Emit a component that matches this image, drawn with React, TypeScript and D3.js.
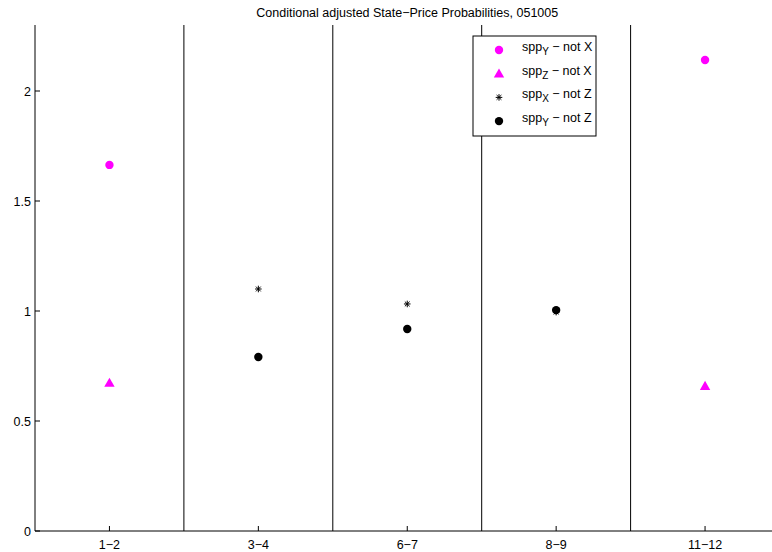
import React from "react";
import * as d3 from "d3";

const title = "Conditional adjusted State\u2212Price Probabilities, 051005";
const categories = ["1\u22122", "3\u22124", "6\u22127", "8\u22129", "11\u221212"];
const yTicks = [0, 0.5, 1, 1.5, 2];
const yTickLabels = ["0", "0.5", "1", "1.5", "2"];

// series values per category (null = not shown)
const sppYnotX: (number | null)[] = [1.664, null, null, null, 2.141];
const sppZnotX: (number | null)[] = [0.673, null, null, null, 0.659];
const sppXnotZ: (number | null)[] = [null, 1.1, 1.032, 0.995, null];
const sppYnotZ: (number | null)[] = [null, 0.791, 0.918, 1.004, null];

const legendItems = [
  { sub: "Y", rest: " \u2212 not X", kind: "circle", color: "#ff00ff" },
  { sub: "Z", rest: " \u2212 not X", kind: "triangle", color: "#ff00ff" },
  { sub: "X", rest: " \u2212 not Z", kind: "star", color: "#000000" },
  { sub: "Y", rest: " \u2212 not Z", kind: "circle", color: "#000000" },
];

const W = 772;
const H = 552;
const margin = { left: 35, top: 25, bottom: 21 };
const plotRight = 779.5;
const FS = 12.5;

function Marker({ kind, x, y, color }: { kind: string; x: number; y: number; color: string }) {
  if (kind === "circle") return <circle cx={x} cy={y} r={4.2} fill={color} />;
  if (kind === "triangle") {
    const s = 5.2;
    return <path d={`M${x},${y - s}L${x + s},${y + s * 0.75}L${x - s},${y + s * 0.75}Z`} fill={color} />;
  }
  const r = 3.3;
  const d = r * 0.72;
  return (
    <path
      d={`M${x - r},${y}H${x + r}M${x},${y - r}V${y + r}M${x - d},${y - d}L${x + d},${y + d}M${x - d},${y + d}L${x + d},${y - d}`}
      stroke={color}
      strokeWidth={1}
      fill="none"
    />
  );
}

export default function App() {
  const x = d3.scaleLinear().domain([0.5, 5.5]).range([margin.left, plotRight]);
  const y = d3.scaleLinear().domain([0, 2.3]).range([H - margin.bottom, margin.top]);
  const y0 = y(0);
  const font = "'Liberation Sans', Arial, Helvetica, sans-serif";
  const series = [
    { data: sppYnotX, kind: "circle", color: "#ff00ff" },
    { data: sppZnotX, kind: "triangle", color: "#ff00ff" },
    { data: sppXnotZ, kind: "star", color: "#000000" },
    { data: sppYnotZ, kind: "circle", color: "#000000" },
  ];
  const lg = { x: 473, y: 36, w: 123, h: 100 };
  return (
    <svg
      width={W}
      height={H}
      style={{ position: "absolute", left: 0, top: 0, background: "#fff" }}
      fontFamily={font}
    >
      <rect width={W} height={H} fill="#fff" />
      <text x={(margin.left + plotRight) / 2} y={17} textAnchor="middle" fontSize={FS}>
        {title}
      </text>
      {/* separators */}
      {categories.slice(0, -1).map((_, i) => (
        <line key={i} x1={x(i + 1.5)} x2={x(i + 1.5)} y1={y(2.3)} y2={y0} stroke="#000" strokeWidth={1} />
      ))}
      {/* axes */}
      <line x1={margin.left} x2={margin.left} y1={y(2.3)} y2={y0} stroke="#000" />
      <line x1={margin.left} x2={W} y1={y0} y2={y0} stroke="#000" />
      {yTicks.map((t, i) => (
        <g key={t}>
          <line x1={margin.left} x2={margin.left + 5} y1={y(t)} y2={y(t)} stroke="#000" />
          <text x={margin.left - 4} y={y(t) + 4.5} textAnchor="end" fontSize={FS}>
            {yTickLabels[i]}
          </text>
        </g>
      ))}
      {categories.map((c, i) => (
        <g key={c}>
          <line x1={x(i + 1)} x2={x(i + 1)} y1={y0} y2={y0 - 5} stroke="#000" />
          <text x={x(i + 1)} y={y0 + 18} textAnchor="middle" fontSize={FS}>
            {c}
          </text>
        </g>
      ))}
      {series.map((s, si) =>
        s.data.map((v, i) =>
          v == null ? null : <Marker key={`${si}-${i}`} kind={s.kind} x={x(i + 1)} y={y(v)} color={s.color} />
        )
      )}
      {/* legend */}
      <rect x={lg.x} y={lg.y} width={lg.w} height={lg.h} fill="#fff" stroke="#000" />
      {legendItems.map((it, i) => {
        const cy = lg.y + 14 + i * 23.7;
        return (
          <g key={i}>
            <Marker kind={it.kind} x={lg.x + 26} y={cy} color={it.color} />
            <text x={lg.x + 49} y={cy + 1} fontSize={FS}>
              spp
              <tspan dy={4} fontSize={10}>{it.sub}</tspan>
              <tspan dy={-4}>{it.rest}</tspan>
            </text>
          </g>
        );
      })}
    </svg>
  );
}
